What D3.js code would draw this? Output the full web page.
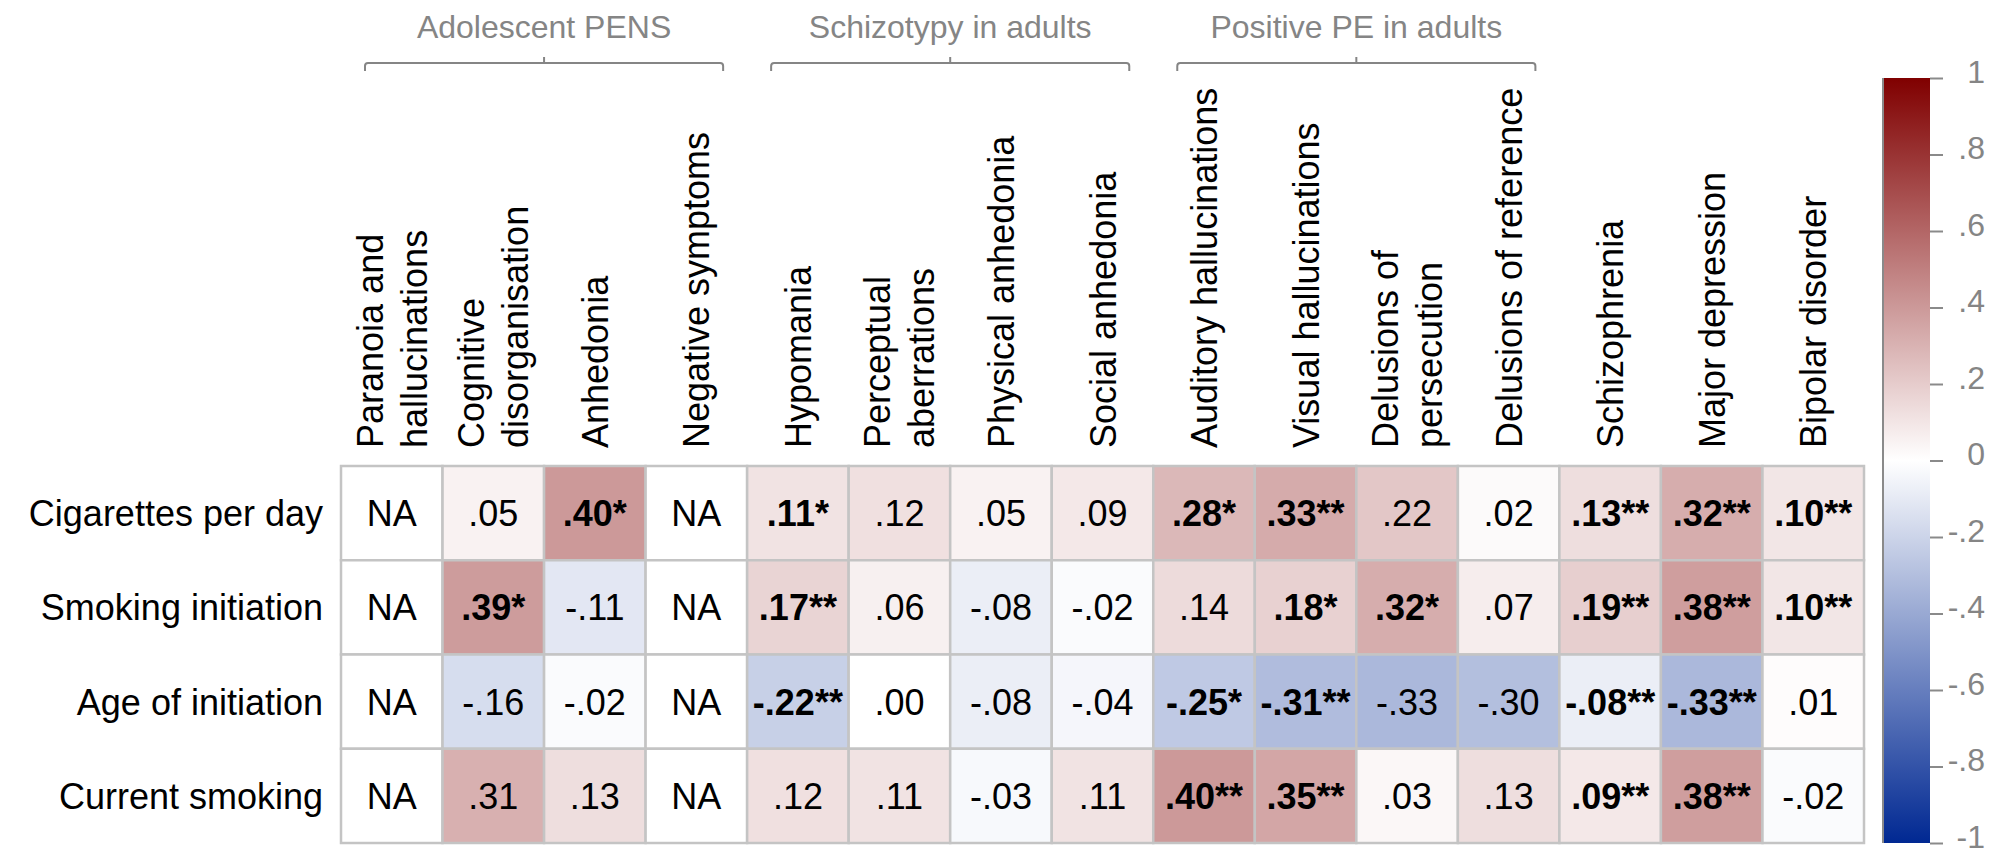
<!DOCTYPE html>
<html>
<head>
<meta charset="utf-8">
<script src="https://cdn.jsdelivr.net/npm/d3@7"></script>
<style>
  body { margin: 0; background: #fff; }
  svg { display: block; font-family: "Liberation Sans", Arial, sans-serif; }
</style>
</head>
<body>
<div id="chart"></div>
<script>
// rows (smoking traits)
const rows = ["Cigarettes per day", "Smoking initiation", "Age of initiation", "Current smoking"];
// columns (outcomes), lines split for two-line headers
const columns = [
  ["Paranoia and", "hallucinations"],
  ["Cognitive", "disorganisation"],
  ["Anhedonia"],
  ["Negative symptoms"],
  ["Hypomania"],
  ["Perceptual", "aberrations"],
  ["Physical anhedonia"],
  ["Social anhedonia"],
  ["Auditory hallucinations"],
  ["Visual hallucinations"],
  ["Delusions of", "persecution"],
  ["Delusions of reference"],
  ["Schizophrenia"],
  ["Major depression"],
  ["Bipolar disorder"]
];
// groups over columns: name, first col, last col
const groups = [
  { name: "Adolescent PENS", from: 0, to: 3 },
  { name: "Schizotypy in adults", from: 4, to: 7 },
  { name: "Positive PE in adults", from: 8, to: 11 }
];
// correlations (null = NA)
const cigsPerDay   = [null, .05, .40, null, .11, .12, .05, .09, .28, .33, .22, .02, .13, .32, .10];
const initiation   = [null, .39, -.11, null, .17, .06, -.08, -.02, .14, .18, .32, .07, .19, .38, .10];
const ageInit      = [null, -.16, -.02, null, -.22, .00, -.08, -.04, -.25, -.31, -.33, -.30, -.08, -.33, .01];
const currentSmoke = [null, .31, .13, null, .12, .11, -.03, .11, .40, .35, .03, .13, .09, .38, -.02];
// significance stars
const cigsStars    = ["", "", "*", "", "*", "", "", "", "*", "**", "", "", "**", "**", "**"];
const initStars    = ["", "*", "", "", "**", "", "", "", "", "*", "*", "", "**", "**", "**"];
const ageStars     = ["", "", "", "", "**", "", "", "", "*", "**", "", "", "**", "**", ""];
const currentStars = ["", "", "", "", "", "", "", "", "**", "**", "", "", "**", "**", ""];
// colour bar ticks
const legendTicks = [1, .8, .6, .4, .2, 0, -.2, -.4, -.6, -.8, -1];

const values = [cigsPerDay, initiation, ageInit, currentSmoke];
const stars = [cigsStars, initStars, ageStars, currentStars];

const W = 2006, H = 857;
const svg = d3.select("#chart").append("svg").attr("width", W).attr("height", H);

const colKeys = columns.map(c => c.join(" "));
const x = d3.scaleBand().domain(colKeys).range([341, 1864]);
const y = d3.scaleBand().domain(rows).range([466, 843]);
const color = d3.scaleLinear().domain([-1, 0, 1]).range(["#002892", "#ffffff", "#800000"]);

// ".05" / "-.11" style, no leading zero
const fmt = v => (v < 0 ? "-" : "") + Math.abs(v).toFixed(2).slice(1);

// cells
const cells = [];
rows.forEach((r, i) => colKeys.forEach((c, j) => {
  cells.push({ row: r, col: c, v: values[i][j], s: stars[i][j] });
}));

const gCells = svg.append("g");
gCells.selectAll("rect")
  .data(cells)
  .enter().append("rect")
  .attr("x", d => x(d.col))
  .attr("y", d => y(d.row))
  .attr("width", x.bandwidth())
  .attr("height", y.bandwidth())
  .attr("fill", d => d.v === null ? "#ffffff" : color(d.v))
  .attr("stroke", "#c4c4c4")
  .attr("stroke-width", 2.5);

gCells.selectAll("text")
  .data(cells)
  .enter().append("text")
  .attr("x", d => x(d.col) + x.bandwidth() / 2)
  .attr("y", d => y(d.row) + y.bandwidth() / 2 + 13)
  .attr("text-anchor", "middle")
  .attr("font-size", 36)
  .attr("font-weight", d => d.s ? "bold" : "normal")
  .attr("fill", "#000")
  .text(d => d.v === null ? "NA" : fmt(d.v) + d.s);

// row labels
svg.append("g").selectAll("text")
  .data(rows)
  .enter().append("text")
  .attr("x", 323)
  .attr("y", d => y(d) + y.bandwidth() / 2 + 13)
  .attr("text-anchor", "end")
  .attr("font-size", 36)
  .text(d => d);

// column labels, rotated
const colLabels = svg.append("g").selectAll("text")
  .data(columns)
  .enter().append("text")
  .attr("font-size", 36)
  .attr("transform", d => {
    const cx = x(d.join(" ")) + x.bandwidth() / 2;
    const bx = d.length > 1 ? cx - 9 : cx + 13;
    return `translate(${bx},448) rotate(-90)`;
  });
colLabels.selectAll("tspan")
  .data(d => d)
  .enter().append("tspan")
  .attr("x", 0)
  .attr("dy", (d, i) => i === 0 ? 0 : 44)
  .text(d => d);

// group brackets
const gGroups = svg.append("g");
groups.forEach(g => {
  const x0 = x(colKeys[g.from]) + 24;
  const x1 = x(colKeys[g.to]) + x.bandwidth() - 24;
  const mid = (x0 + x1) / 2;
  gGroups.append("path")
    .attr("d", `M${x0},71 L${x0},66 Q${x0},63 ${x0 + 3},63 L${x1 - 3},63 Q${x1},63 ${x1},66 L${x1},71 M${mid},63 L${mid},57`)
    .attr("fill", "none")
    .attr("stroke", "#858585")
    .attr("stroke-width", 2);
  gGroups.append("text")
    .attr("x", mid)
    .attr("y", 38)
    .attr("text-anchor", "middle")
    .attr("font-size", 32)
    .attr("fill", "#858585")
    .text(g.name);
});

// colour bar
const legY = d3.scaleLinear().domain([-1, 1]).range([843, 78]);
const defs = svg.append("defs");
const grad = defs.append("linearGradient")
  .attr("id", "cbar")
  .attr("x1", 0).attr("y1", 1).attr("x2", 0).attr("y2", 0);
legendTicks.slice().reverse().forEach(t => {
  grad.append("stop")
    .attr("offset", (t + 1) / 2)
    .attr("stop-color", color(t));
});
svg.append("rect")
  .attr("x", 1882)
  .attr("y", legY(1))
  .attr("width", 48)
  .attr("height", legY(-1) - legY(1))
  .attr("fill", "url(#cbar)");
svg.append("line")
  .attr("x1", 1883).attr("x2", 1883)
  .attr("y1", legY(1)).attr("y2", legY(-1))
  .attr("stroke", "#8a8a8a")
  .attr("stroke-width", 2);

const legAxis = svg.append("g")
  .attr("transform", "translate(1930,0)")
  .call(d3.axisRight(legY)
    .tickValues(legendTicks)
    .tickSize(13)
    .tickFormat(d => d === 0 ? "0" : (Math.abs(d) === 1 ? (d < 0 ? "-1" : "1") : fmt(d).replace(/0$/, ""))));
legAxis.select(".domain").remove();
legAxis.selectAll(".tick line").attr("stroke", "#8a8a8a").attr("stroke-width", 2);
legAxis.selectAll(".tick text")
  .attr("x", 55)
  .attr("dy", 4)
  .attr("text-anchor", "end")
  .attr("fill", "#858585")
  .attr("font-size", 32)
  .attr("font-family", "\"Liberation Sans\", Arial, sans-serif");
</script>
</body>
</html>
